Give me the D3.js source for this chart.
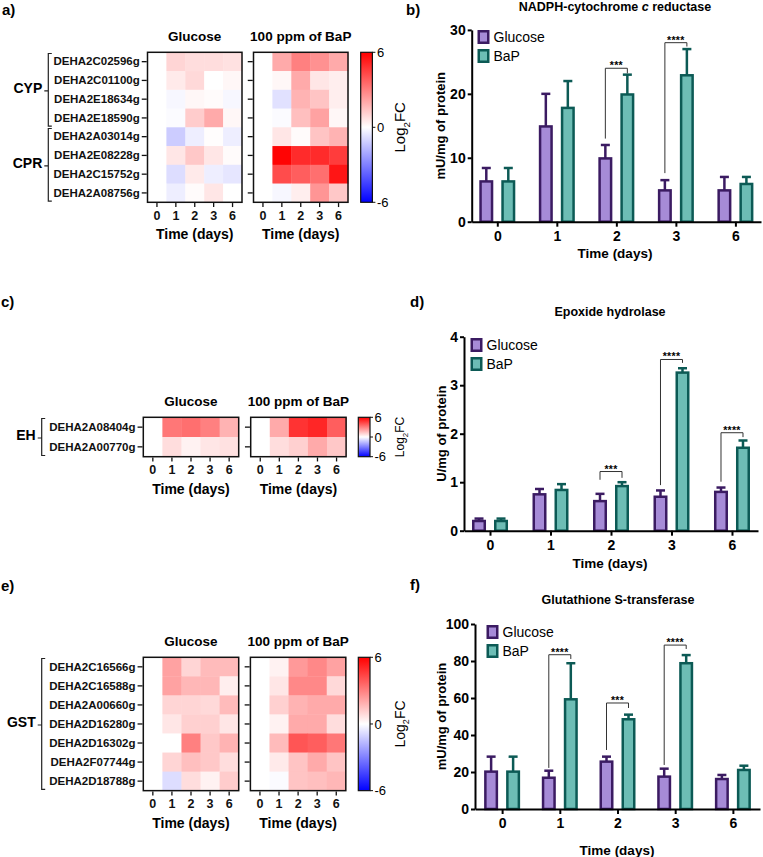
<!DOCTYPE html>
<html><head><meta charset="utf-8">
<script src="https://cdn.jsdelivr.net/npm/d3@7"></script>
<style>
body{margin:0;background:#fff}
svg{display:block}
text{font-family:"Liberation Sans",Arial,Helvetica,sans-serif}
</style>
</head><body>
<svg id="chart" width="763" height="857"></svg>
<script>
// ---------------- DATA ----------------
const days = ["0","1","2","3","6"];

// a) CYP / CPR heatmap (Log2FC)
const aGroupNames = ["CYP","CPR"];
const aGenesCYP = ["DEHA2C02596g","DEHA2C01100g","DEHA2E18634g","DEHA2E18590g"];
const aGenesCPR = ["DEHA2A03014g","DEHA2E08228g","DEHA2C15752g","DEHA2A08756g"];
const aGlucose = [
  [0, 1.0, 0.8, 0.8, 0.7],
  [0, 0.5, 0.9, 0.0, 0.2],
  [0,-0.2, 0.2, 0.1,-0.2],
  [0,-0.1, 1.2, 2.0, 0.2],
  [0,-1.2,-0.4, 0.05,-0.4],
  [0, 0.6, 1.3, 0.6, 0.1],
  [0,-0.8, 0.5,-0.4,-0.6],
  [0,-0.4, 0.1, 0.6, 0.0]
];
const aBaP = [
  [0, 2.0, 3.0, 2.6, 2.0],
  [0, 0.2, 2.0, 0.6, 0.4],
  [0,-0.7, 1.8, 1.4, 0.4],
  [0,-0.1, 1.5, 2.2, 0.2],
  [0, 0.6, 0.1, 1.4, 1.8],
  [0, 5.9, 5.0, 5.0, 4.6],
  [0, 4.2, 3.8, 3.4, 5.5],
  [0,-0.2, 0.4, 2.5, 1.3]
];

// c) EH heatmap
const cGroupNames = ["EH"];
const cGenes = ["DEHA2A08404g","DEHA2A00770g"];
const cGlucose = [
  [0, 3.2, 3.4, 3.0, 1.8],
  [0, 0.8, 0.3, 0.6, 0.7]
];
const cBaP = [
  [0, 2.0, 4.8, 5.1, 3.8],
  [0, 0.8, 1.1, 2.0, 1.3]
];

// e) GST heatmap
const eGroupNames = ["GST"];
const eGenes = ["DEHA2C16566g","DEHA2C16588g","DEHA2A00660g","DEHA2D16280g","DEHA2D16302g","DEHA2F07744g","DEHA2D18788g"];
const eGlucose = [
  [0, 2.2, 1.0, 1.6, 1.6],
  [0, 2.2, 1.7, 1.7, 0.4],
  [0, 1.0, 1.0, 0.9, 1.6],
  [0, 0.6, 1.1, 1.1, 0.6],
  [0, 0.0, 3.0, 1.3, 1.8],
  [0, 1.0, 1.5, 1.3, 0.8],
  [0,-0.8, 0.8, 0.3, 1.2]
];
const eBaP = [
  [0, 0.3, 2.4, 2.8, 2.2],
  [0, 0.6, 2.8, 2.8, 0.9],
  [0, 1.1, 1.8, 2.0, 2.0],
  [0, 0.3, 2.0, 2.0, 0.8],
  [0, 1.6, 4.0, 3.8, 3.2],
  [0, 0.5, 1.4, 2.0, 1.4],
  [0,-0.1, 1.4, 1.5, 1.7]
];
const cbTicks = [6, 0, -6];

// b) NADPH-cytochrome c reductase (mU/mg of protein)
const bGlucose   = [6.3, 14.9, 9.9, 4.9, 4.9];
const bGlucoseSD = [2.1, 5.1, 2.1, 1.6, 2.1];
const bBaP       = [6.3, 17.8, 19.9, 22.9, 5.9];
const bBaPSD     = [2.1, 4.2, 3.1, 4.1, 1.1];
const bTicks = [0, 10, 20, 30];
const bSig = [
  {day:"2", label:"***",  y:24.0, left:13.0, right:23.2},
  {day:"3", label:"****", y:28.0, left:7.6,  right:27.4}
];

// d) Epoxide hydrolase (U/mg of protein)
const dGlucose   = [0.20, 0.75, 0.61, 0.70, 0.80];
const dGlucoseSD = [0.05, 0.11, 0.15, 0.13, 0.09];
const dBaP       = [0.20, 0.84, 0.92, 3.26, 1.71];
const dBaPSD     = [0.05, 0.12, 0.08, 0.09, 0.15];
const dTicks = [0, 1, 2, 3, 4];
const dSig = [
  {day:"2", label:"***",  y:1.22, left:1.05, right:1.09},
  {day:"3", label:"****", y:3.53, left:0.94, right:3.46},
  {day:"6", label:"****", y:2.02, left:1.01, right:1.93}
];

// f) Glutathione S-transferase (mU/mg of protein)
const fGlucose   = [20.2, 16.9, 25.6, 17.5, 16.2];
const fGlucoseSD = [8.1, 3.8, 2.7, 4.3, 2.2];
const fBaP       = [20.2, 59.3, 48.5, 78.8, 21.1];
const fBaPSD     = [8.1, 19.5, 2.5, 4.4, 2.3];
const fTicks = [0, 20, 40, 60, 80, 100];
const fSig = [
  {day:"1", label:"****", y:83.4, left:22.2, right:81.1},
  {day:"2", label:"***",  y:57.3, left:31.9, right:54.6},
  {day:"3", label:"****", y:88.6, left:23.8, right:86.5}
];

const seriesNames = ["Glucose","BaP"];

// ---------------- STYLE ----------------
const FONT = '"Liberation Sans",Arial,Helvetica,sans-serif';
const gluFill = "#a68bd7", gluStroke = "#3b1b62";
const bapFill = "#6dbdb5", bapStroke = "#0c5a55";
const svg = d3.select("#chart");
const heatColor = d3.scaleLinear().domain([-6,0,6]).range(["#0000ff","#ffffff","#ff0000"]);

function panelLetter(txt, x, y){
  svg.append("text").attr("x",x).attr("y",y).attr("font-size",15).attr("font-weight","bold").text(txt);
}

// ---------------- HEATMAP ----------------
function heatmap(o){
  const g = svg.append("g");
  const genes = o.groups.flatMap(d=>d.genes);
  const top = o.top, bottom = o.top + genes.length*o.rowH;
  const y = d3.scaleBand().domain(genes).range([top,bottom]);
  const panels = [
    {title:"Glucose", vals:o.glu, x0:o.left, labels:true},
    {title:"100 ppm of BaP", vals:o.bap, x0:o.left+o.boxW+o.gap, labels:false}
  ];
  panels.forEach(p=>{
    const x = d3.scaleBand().domain(days).range([p.x0, p.x0+o.boxW]);
    const cells = genes.flatMap((gene,i)=>days.map((d,j)=>({gene,d,v:p.vals[i][j]})));
    g.append("g").selectAll("rect").data(cells).join("rect")
      .attr("x",c=>x(c.d)).attr("y",c=>y(c.gene))
      .attr("width",x.bandwidth()+0.4).attr("height",y.bandwidth()+0.4)
      .attr("fill",c=>heatColor(c.v));
    g.append("rect").attr("x",p.x0).attr("y",top).attr("width",o.boxW).attr("height",bottom-top)
      .attr("fill","none").attr("stroke","#111").attr("stroke-width",1.5);
    const ax = g.append("g").attr("transform",`translate(${p.x0-0.75},0)`)
      .call(d3.axisLeft(y).tickSize(5).tickPadding(2).tickFormat(p.labels?null:()=>""));
    ax.select(".domain").remove();
    ax.selectAll("line").attr("stroke","#111").attr("stroke-width",1.3);
    ax.selectAll("text").attr("font-family",FONT).attr("font-size",11.5).attr("font-weight","bold").attr("fill","#111");
    const bx = g.append("g").attr("transform",`translate(0,${bottom+0.75})`)
      .call(d3.axisBottom(x).tickSize(4).tickPadding(4));
    bx.select(".domain").remove();
    bx.selectAll("line").attr("stroke","#111").attr("stroke-width",1.3);
    bx.selectAll("text").attr("font-family",FONT).attr("font-size",12.5).attr("font-weight","bold").attr("fill","#111");
    g.append("text").attr("x",p.x0+o.boxW/2).attr("y",top-16).attr("dy","0.35em")
      .attr("text-anchor","middle").attr("font-size",13.5).attr("font-weight","bold").text(p.title);
    g.append("text").attr("x",p.x0+o.boxW/2).attr("y",bottom+32).attr("dy","0.35em")
      .attr("text-anchor","middle").attr("font-size",14).attr("font-weight","bold").text("Time (days)");
  });
  // group brackets
  o.groups.forEach(gr=>{
    const y1 = y(gr.genes[0]) + 1.2, y2 = y(gr.genes[gr.genes.length-1]) + y.bandwidth() - 1.2;
    const bxp = o.bracketX, mid = (y1+y2)/2;
    g.append("path").attr("d",`M${bxp+3.5},${y1}H${bxp}V${y2}H${bxp+3.5}M${bxp-4},${mid+1}H${bxp}`)
      .attr("fill","none").attr("stroke","#222").attr("stroke-width",1.2);
    g.append("text").attr("x",bxp-6).attr("y",mid-2).attr("dy","0.35em").attr("text-anchor","end")
      .attr("font-size",14).attr("font-weight","bold").text(gr.name);
  });
  // colorbar
  const gid = "grad"+o.id;
  const grad = svg.append("defs").append("linearGradient").attr("id",gid)
    .attr("x1",0).attr("y1",0).attr("x2",0).attr("y2",1);
  [6,3,0,-3,-6].forEach((v,i)=>grad.append("stop").attr("offset",i/4).attr("stop-color",heatColor(v)));
  const cs = d3.scaleLinear().domain([6,-6]).range([top,bottom]);
  g.append("rect").attr("x",o.cbX).attr("y",top).attr("width",o.cbW).attr("height",bottom-top)
    .attr("fill",`url(#${gid})`).attr("stroke","#111").attr("stroke-width",1.2);
  cbTicks.forEach(t=>{
    g.append("line").attr("x1",o.cbX+o.cbW).attr("x2",o.cbX+o.cbW+3).attr("y1",cs(t)).attr("y2",cs(t))
      .attr("stroke","#111").attr("stroke-width",1);
    g.append("text").attr("x",o.cbX+o.cbW+4.5).attr("y",cs(t)).attr("dy","0.35em")
      .attr("font-size",13).text(t);
  });
  const lt = g.append("text").attr("transform",`translate(${o.logX},${(top+bottom)/2}) rotate(-90)`)
    .attr("text-anchor","middle").attr("dy","0.35em").attr("font-size",o.logSize);
  lt.append("tspan").text("Log");
  lt.append("tspan").attr("font-size",o.logSize*0.65).attr("dy",o.logSize*0.3).text("2");
  lt.append("tspan").attr("dy",-o.logSize*0.3).text("FC");
}

// ---------------- BAR CHART ----------------
function barChart(o){
  const g = svg.append("g");
  const y = d3.scaleLinear().domain([0,o.yMax]).range([o.y0,o.yTop]);
  const x = d3.scalePoint().domain(days).range([o.xL,o.xR]).padding(o.pad);
  const off = 11, bw = 11.5, sw = 2.5;
  const series = [
    {name:seriesNames[0], vals:o.glu, sd:o.gluSD, fill:gluFill, stroke:gluStroke, dx:-off},
    {name:seriesNames[1], vals:o.bap, sd:o.bapSD, fill:bapFill, stroke:bapStroke, dx:off}
  ];
  series.forEach(s=>{
    const data = days.map((d,i)=>({d, v:s.vals[i], sd:s.sd[i]}));
    const sg = g.append("g");
    sg.selectAll("line.err").data(data).join("line").attr("class","err")
      .attr("x1",d=>x(d.d)+s.dx).attr("x2",d=>x(d.d)+s.dx)
      .attr("y1",d=>y(d.v)).attr("y2",d=>y(d.v+d.sd))
      .attr("stroke",s.stroke).attr("stroke-width",sw);
    sg.selectAll("line.cap").data(data).join("line").attr("class","cap")
      .attr("x1",d=>x(d.d)+s.dx-4.5).attr("x2",d=>x(d.d)+s.dx+4.5)
      .attr("y1",d=>y(d.v+d.sd)).attr("y2",d=>y(d.v+d.sd))
      .attr("stroke",s.stroke).attr("stroke-width",sw);
    sg.selectAll("rect").data(data).join("rect")
      .attr("x",d=>x(d.d)+s.dx-bw/2).attr("width",bw)
      .attr("y",d=>y(d.v)).attr("height",d=>y(0)-y(d.v))
      .attr("fill",s.fill).attr("stroke",s.stroke).attr("stroke-width",sw);
  });
  // axes
  const ya = g.append("g").attr("transform",`translate(${o.xL},0)`)
    .call(d3.axisLeft(y).tickValues(o.ticks).tickFormat(d3.format("d")).tickSize(4).tickSizeOuter(0).tickPadding(2));
  const xa = g.append("g").attr("transform",`translate(0,${o.y0})`)
    .call(d3.axisBottom(x).tickSize(5).tickSizeOuter(0).tickPadding(4));
  [ya,xa].forEach(a=>{
    a.selectAll("path,line").attr("stroke","#000").attr("stroke-width",2);
    a.selectAll("text").attr("font-family",FONT).attr("font-size",14).attr("font-weight","bold").attr("fill","#000");
  });
  // significance brackets
  o.sig.forEach(s=>{
    const lx = x(s.day)-off, rx = x(s.day)+off;
    g.append("path").attr("d",`M${lx},${y(s.left)}V${y(s.y)}H${rx}V${y(s.right)}`)
      .attr("fill","none").attr("stroke","#333").attr("stroke-width",1);
    g.append("text").attr("x",(lx+rx)/2).attr("y",y(s.y)+1).attr("text-anchor","middle")
      .attr("font-size",10.5).attr("font-weight","bold").attr("letter-spacing",0.3).text(s.label);
  });
  // legend
  series.forEach((s,i)=>{
    const ly = o.legY + i*19;
    g.append("rect").attr("x",o.legX+1.25).attr("y",ly+1.25).attr("width",9.5).attr("height",11.5)
      .attr("fill",s.fill).attr("stroke",s.stroke).attr("stroke-width",sw);
    g.append("text").attr("x",o.legX+16).attr("y",ly+7).attr("dy","0.35em")
      .attr("font-size",14).text(s.name);
  });
  // labels
  g.append("text").attr("transform",`translate(${o.yLabX},${(o.y0+o.yTop)/2}) rotate(-90)`)
    .attr("text-anchor","middle").attr("dy","0.35em").attr("font-size",13).attr("font-weight","bold").text(o.yLabel);
  g.append("text").attr("x",o.xLabX).attr("y",o.xLabY).attr("text-anchor","middle")
    .attr("font-size",13.5).attr("font-weight","bold").text("Time (days)");
  const t = g.append("text").attr("x",o.titleX).attr("y",o.titleY).attr("text-anchor","middle")
    .attr("font-size",12.5).attr("font-weight","bold");
  o.title.forEach(part=>t.append("tspan").attr("font-style",part.italic?"italic":null).text(part.text));
}

// ---------------- DRAW ----------------
panelLetter("a)", 2, 15);
panelLetter("b)", 406, 15);
panelLetter("c)", 1, 307);
panelLetter("d)", 410, 307);
panelLetter("e)", 1, 591);
panelLetter("f)", 410, 590);

heatmap({id:"a", groups:[{name:aGroupNames[0],genes:aGenesCYP},{name:aGroupNames[1],genes:aGenesCPR}],
  glu:aGlucose, bap:aBaP, left:147.5, top:52.3, rowH:18.75, boxW:94.5, gap:11.5,
  cbX:360.7, cbW:11.7, bracketX:48.3, logX:400, logSize:15});
heatmap({id:"c", groups:[{name:cGroupNames[0],genes:cGenes}],
  glu:cGlucose, bap:cBaP, left:143.3, top:417.3, rowH:19.7, boxW:95.4, gap:12,
  cbX:358.3, cbW:11.7, bracketX:41.7, logX:400, logSize:12});
heatmap({id:"e", groups:[{name:eGroupNames[0],genes:eGenes}],
  glu:eGlucose, bap:eBaP, left:143.3, top:657.3, rowH:19.05, boxW:95.4, gap:11.7,
  cbX:358.3, cbW:11.7, bracketX:41.7, logX:400, logSize:14});

barChart({title:[{text:"NADPH-cytochrome "},{text:"c",italic:true},{text:" reductase"}],
  titleX:615, titleY:11, yLabel:"mU/mg of protein", yLabX:440,
  glu:bGlucose, gluSD:bGlucoseSD, bap:bBaP, bapSD:bBaPSD, yMax:30, ticks:bTicks, sig:bSig,
  xL:471.7, xR:761, pad:0.43, y0:221.7, yTop:29.9, legX:477.5, legY:30,
  xLabX:615, xLabY:258});
barChart({title:[{text:"Epoxide hydrolase"}],
  titleX:610, titleY:316, yLabel:"U/mg of protein", yLabX:441,
  glu:dGlucose, gluSD:dGlucoseSD, bap:dBaP, bapSD:dBaPSD, yMax:4, ticks:dTicks, sig:dSig,
  xL:464, xR:758, pad:0.43, y0:530.7, yTop:336.7, legX:470.5, legY:338,
  xLabX:610, xLabY:567.5});
barChart({title:[{text:"Glutathione S-transferase"}],
  titleX:618, titleY:603.5, yLabel:"mU/mg of protein", yLabX:441,
  glu:fGlucose, gluSD:fGlucoseSD, bap:fBaP, bapSD:fBaPSD, yMax:100, ticks:fTicks, sig:fSig,
  xL:475, xR:760, pad:0.47, y0:809, yTop:624, legX:486.5, legY:625,
  xLabX:617, xLabY:855});
</script>
</body></html>
